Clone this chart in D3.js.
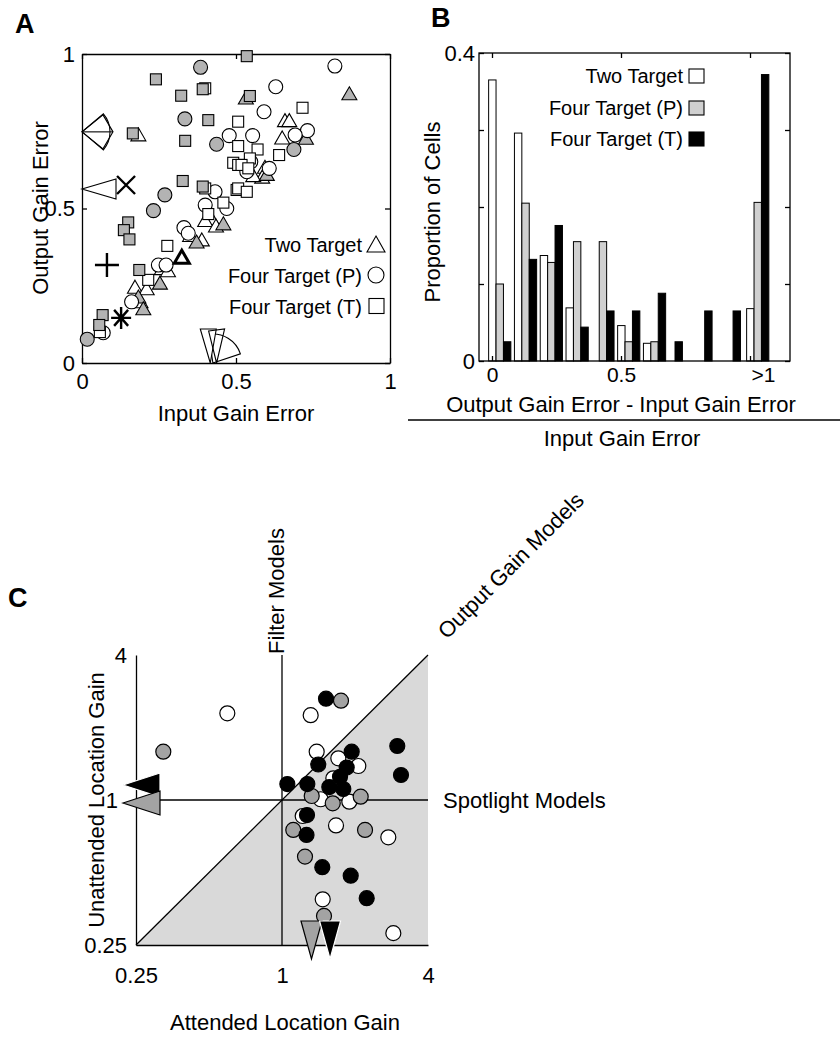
<!DOCTYPE html>
<html><head><meta charset="utf-8">
<script src="https://cdn.jsdelivr.net/npm/d3@7"></script>
<style>body{margin:0;background:#fff}svg{display:block}</style>
</head><body><svg id="c" width="840" height="1037"></svg>
<script>
// ---------------- DATA ----------------
// Panel A: [inputGainError, outputGainError, grayFilled]
const aTwoTarget = [
 [0.183,0.740,0],[0.659,0.786,0],[0.673,0.786,0],[0.650,0.730,0],[0.594,0.635,0],[0.585,0.603,0],
 [0.556,0.608,0],[0.421,0.468,0],[0.400,0.463,0],[0.351,0.414,0],[0.389,0.400,0],[0.435,0.445,0],
 [0.259,0.307,0],[0.279,0.300,0],[0.172,0.247,0],[0.210,0.242,0],[0.190,0.200,0],
 [0.868,0.873,1],[0.532,0.859,1],[0.727,0.729,1],[0.600,0.612,1],[0.459,0.452,1],[0.372,0.393,1],
 [0.253,0.260,1],[0.183,0.215,1],[0.199,0.177,1]
];
const aFourTargetP = [
 [0.821,0.961,0],[0.629,0.894,0],[0.591,0.813,0],[0.732,0.752,0],[0.692,0.738,0],[0.554,0.736,0],
 [0.478,0.736,0],[0.432,0.554,0],[0.548,0.651,0],[0.608,0.630,0],[0.535,0.619,0],[0.470,0.500,0],
 [0.400,0.511,0],[0.331,0.438,0],[0.345,0.420,0],[0.248,0.317,0],[0.273,0.317,0],[0.161,0.198,0],
 [0.069,0.098,0],
 [0.385,0.957,1],[0.334,0.790,1],[0.437,0.708,1],[0.269,0.544,1],[0.232,0.493,1],[0.688,0.691,1],[0.017,0.077,1]
];
const aFourTargetT = [
 [0.400,0.889,0],[0.716,0.826,0],[0.507,0.781,0],[0.507,0.702,0],[0.491,0.648,0],[0.507,0.641,0],
 [0.400,0.565,0],[0.502,0.560,0],[0.640,0.673,0],[0.570,0.691,0],[0.545,0.662,0],[0.518,0.641,0],
 [0.540,0.630,0],[0.507,0.565,0],[0.535,0.554,0],[0.459,0.519,0],[0.410,0.482,0],[0.277,0.379,0],
 [0.215,0.269,0],[0.058,0.100,0],
 [0.535,0.993,1],[0.240,0.918,1],[0.322,0.865,1],[0.392,0.886,1],[0.410,0.786,1],[0.165,0.743,1],
 [0.335,0.719,1],[0.545,0.864,1],[0.327,0.589,1],[0.392,0.571,1],[0.150,0.455,1],[0.136,0.430,1],
 [0.154,0.400,1],[0.186,0.301,1],[0.067,0.155,1],[0.056,0.123,1]
];
const aMeans = [ {x:0.143,y:0.576,sym:'x'}, {x:0.081,y:0.317,sym:'+'}, {x:0.127,y:0.146,sym:'*'} ];
const aBoldTriangle = {x:0.324, y:0.344};
const aMarginY = [0.748, 0.563];       // left margin markers (output gain error)
const aMarginX = [0.410, 0.437, 0.425]; // bottom margin markers (input gain error)
const aTicks = [0, 0.5, 1];
const legendLabels = ["Two Target", "Four Target (P)", "Four Target (T)"];

// Panel B: histogram
const bBins = [0.03,0.13,0.23,0.33,0.43,0.53,0.63,0.695,0.81,0.92,1.03];
const bTwoTarget   = [0.365,0.296,0.137,0.069,0.000,0.046,0.023,0.000,0.000,0.000,0.068];
const bFourTargetP = [0.100,0.205,0.128,0.155,0.155,0.025,0.025,0.000,0.000,0.000,0.206];
const bFourTargetT = [0.025,0.132,0.176,0.044,0.065,0.065,0.088,0.025,0.065,0.065,0.372];
const bXTicks = [0, 0.5, 1];
const bXTickLabels = ["0", "0.5", ">1"];
const bYTicks = [0, 0.1, 0.2, 0.3, 0.4];

// Panel C: [attendedGain, unattendedGain]
const cWhite = [[0.595,2.29],[1.313,2.25],[1.39,1.587],[1.707,1.49],[2.064,1.384],[1.628,1.23],[1.444,1.007],
 [1.895,0.984],[1.217,0.858],[1.67,0.784],[2.744,0.70],[1.472,0.387],[2.878,0.28]];
const cGray = [[0.324,1.587],[1.751,2.584],[1.326,1.039],[1.619,0.969],[2.111,1.032],[1.113,0.751],
 [2.2,0.751],[1.244,0.582],[1.49,0.33]];
const cBlack = [[1.519,2.634],[2.988,1.676],[3.095,1.27],[1.938,1.587],[1.411,1.404],[1.848,1.364],
 [1.735,1.249],[1.052,1.165],[1.272,1.165],[1.567,1.132],[1.79,1.111],[1.268,0.866],[1.262,0.716],
 [1.466,0.526],[1.92,0.485],[2.235,0.391]];
const cMarginY = [ {v:1.154, c:'black'}, {v:0.972, c:'gray'} ];
const cMarginX = [ {v:1.323, c:'gray'}, {v:1.578, c:'black'} ];
const cTicks = [0.25, 1, 4];

// ---------------- DRAW ----------------
const FONT = '"Liberation Sans", Arial, Helvetica, sans-serif';
const GA = '#b3b3b3', GB = '#d0d0d0', GC = '#a3a3a3', GREG = '#d9d9d9';
const svg = d3.select('#c');
svg.append('rect').attr('width',840).attr('height',1037).attr('fill','#fff');

function styleAxis(g, fs){
  g.attr('font-size', fs || 22).attr('font-family', FONT);
  g.selectAll('path,line').attr('stroke','#000').attr('stroke-width',1.3);
  g.selectAll('text').attr('fill','#000');
}
function txt(x,y,s,opt){
  opt = opt||{};
  const t = svg.append('text').attr('x',x).attr('y',y).text(s)
    .attr('font-family',FONT).attr('font-size',opt.fs||22)
    .attr('text-anchor',opt.anchor||'middle').attr('fill','#000');
  if(opt.bold) t.attr('font-weight','bold');
  if(opt.rot!==undefined) t.attr('transform',`rotate(${opt.rot},${x},${y})`);
  return t;
}
const triPath = (s,h) => `M0,${-h/2}L${s/2},${h/2}L${-s/2},${h/2}Z`;

// ===== Panel A =====
const ax = d3.scaleLinear().domain([0,1]).range([82,390]);
const ay = d3.scaleLinear().domain([0,1]).range([363,54]);
const fmtA = d => String(d);
const A = svg.append('g');
A.append('g').attr('transform','translate(0,363)')
 .call(d3.axisBottom(ax).tickValues(aTicks).tickFormat(fmtA).tickSizeInner(-5).tickSizeOuter(0).tickPadding(10)).call(styleAxis);
A.append('g').attr('transform','translate(0,54)')
 .call(d3.axisTop(ax).tickValues(aTicks).tickFormat('').tickSizeInner(-5).tickSizeOuter(0)).call(styleAxis);
A.append('g').attr('transform','translate(82,0)')
 .call(d3.axisLeft(ay).tickValues(aTicks).tickFormat(fmtA).tickSizeInner(-5).tickSizeOuter(0).tickPadding(7)).call(styleAxis);
A.append('g').attr('transform','translate(390,0)')
 .call(d3.axisRight(ay).tickValues(aTicks).tickFormat('').tickSizeInner(-5).tickSizeOuter(0)).call(styleAxis);

const pts = A.append('g').attr('stroke','#000').attr('stroke-width',1.1);
const order = arr => arr.slice().sort((a,b)=>a[2]-b[2]);
pts.selectAll('path.t').data(order(aTwoTarget)).join('path').attr('class','t')
  .attr('d', triPath(15,13)).attr('transform', d=>`translate(${ax(d[0])},${ay(d[1])})`)
  .attr('fill', d=> d[2]? GA : '#fff');
pts.selectAll('circle.p').data(order(aFourTargetP)).join('circle').attr('class','p')
  .attr('cx', d=>ax(d[0])).attr('cy', d=>ay(d[1])).attr('r',7)
  .attr('fill', d=> d[2]? GA : '#fff');
pts.selectAll('rect.q').data(order(aFourTargetT)).join('rect').attr('class','q')
  .attr('x', d=>ax(d[0])-5.5).attr('y', d=>ay(d[1])-5.5).attr('width',11).attr('height',11)
  .attr('fill', d=> d[2]? GA : '#fff');
// bold triangle
A.append('path').attr('d',triPath(15,13)).attr('transform',`translate(${ax(aBoldTriangle.x)},${ay(aBoldTriangle.y)})`)
  .attr('fill','#fff').attr('stroke','#000').attr('stroke-width',3);
// mean markers
aMeans.forEach(m=>{
  const g = A.append('g').attr('transform',`translate(${ax(m.x)},${ay(m.y)})`).attr('stroke','#000').attr('stroke-width',2.4).attr('fill','none');
  if(m.sym==='x'){ g.append('path').attr('d','M-9,-9L9,9M-9,9L9,-9'); }
  else if(m.sym==='+'){ g.append('path').attr('d','M-12,0L12,0M0,-12L0,12'); }
  else { g.append('path').attr('d','M-10,0L10,0M0,-11L0,11M-7,-8L7,8M-7,8L7,-8'); }
});
// left margin composite markers
(function(){
  const x0 = ax(0), y0 = ay(aMarginY[0]);
  const g = A.append('g').attr('transform',`translate(${x0},${y0})`).attr('stroke','#000').attr('stroke-width',1.1).attr('fill','#fff');
  g.append('path').attr('d', d3.arc()({innerRadius:0, outerRadius:28, startAngle:Math.PI/2-0.7, endAngle:Math.PI/2+0.7}));
  g.append('path').attr('d','M0,0L21,-17L31,0L21,17Z').attr('fill','none');
  g.append('path').attr('d','M0,0L31,0').attr('fill','none');
  const y1 = ay(aMarginY[1]);
  A.append('path').attr('d',`M${x0},${y1}L${x0+34},${y1-10}L${x0+34},${y1+10}Z`).attr('fill','#fff').attr('stroke','#000').attr('stroke-width',1.1);
})();
// bottom margin composite markers
(function(){
  const yb = ay(0);
  const g = A.append('g').attr('stroke','#000').attr('stroke-width',1.1).attr('fill','#fff');
  const xf = ax(aMarginX[2]);
  g.append('path').attr('transform',`translate(${xf},${yb})`)
   .attr('d', d3.arc()({innerRadius:0, outerRadius:29, startAngle:-0.15, endAngle:1.25}));
  [aMarginX[0], aMarginX[1]].forEach((v,i)=>{
    const xc = ax(v);
    g.append('path').attr('d',`M${xc-8},${yb-34+i*2}L${xc+8},${yb-34}L${xc+(i?0:2)},${yb}Z`).attr('fill', i? 'none':'#fff');
  });
})();
// legend A
const legA = A.append('g');
const legAy = [244, 275, 306];
legendLabels.forEach((l,i)=>{
  txt(362, legAy[i]+8, l, {anchor:'end', fs:20});
});
legA.append('path').attr('d',triPath(18,16)).attr('transform',`translate(376,${legAy[0]})`).attr('fill','#fff').attr('stroke','#000').attr('stroke-width',1.1);
legA.append('circle').attr('cx',376).attr('cy',legAy[1]).attr('r',8).attr('fill','#fff').attr('stroke','#000').attr('stroke-width',1.1);
legA.append('rect').attr('x',369).attr('y',legAy[2]-7.5).attr('width',15).attr('height',15).attr('fill','#fff').attr('stroke','#000').attr('stroke-width',1.1);
// labels A
txt(236, 421, 'Input Gain Error');
txt(48, 208, 'Output Gain Error', {rot:-90});
txt(15, 33, 'A', {anchor:'start', bold:true, fs:27});

// ===== Panel B =====
const bx = d3.scaleLinear().domain([0,1]).range([492,750]);
const by = d3.scaleLinear().domain([0,0.4]).range([361,53]);
const B = svg.append('g');
const barW = 0.0287;
const series = [ {v:bTwoTarget, c:'#fff'}, {v:bFourTargetP, c:GB}, {v:bFourTargetT, c:'#000'} ];
series.forEach((s,i)=>{
  B.append('g').selectAll('rect').data(bBins.map((b,j)=>({b, v:s.v[j]})).filter(d=>d.v>0)).join('rect')
   .attr('x', d=> bx(d.b + (i-1.5)*barW)).attr('width', bx(barW)-bx(0))
   .attr('y', d=> by(d.v)).attr('height', d=> by(0)-by(d.v))
   .attr('fill', s.c).attr('stroke','#000').attr('stroke-width',1);
});
// box
B.append('rect').attr('x',479).attr('y',53).attr('width',311).attr('height',308).attr('fill','none').attr('stroke','#000').attr('stroke-width',1.3);
const gbx = B.append('g').attr('transform','translate(0,361)')
 .call(d3.axisBottom(bx).tickValues(bXTicks).tickFormat((d,i)=>bXTickLabels[i]).tickSizeInner(-5).tickSizeOuter(0).tickPadding(6)).call(g=>styleAxis(g,21));
gbx.select('.domain').remove();
gbx.selectAll('text').filter((d,i)=>i===2).attr('dx',13);
B.append('g').attr('transform','translate(0,53)')
 .call(d3.axisTop(bx).tickValues(bXTicks).tickFormat('').tickSizeInner(-5).tickSizeOuter(0)).call(styleAxis).select('.domain').remove();
B.append('g').attr('transform','translate(479,0)')
 .call(d3.axisLeft(by).tickValues(bYTicks).tickFormat(d=> (d===0||d===0.4)? String(d):'').tickSizeInner(-5).tickSizeOuter(0).tickPadding(4)).call(styleAxis).select('.domain').remove();
B.append('g').attr('transform','translate(790,0)')
 .call(d3.axisRight(by).tickValues(bYTicks).tickFormat('').tickSizeInner(-5).tickSizeOuter(0)).call(styleAxis).select('.domain').remove();
// legend B
const legBy = [83, 115, 146];
legendLabels.forEach((l,i)=>{
  txt(683, legBy[i], l, {anchor:'end', fs:20});
  B.append('rect').attr('x',689).attr('y',legBy[i]-14).attr('width',15).attr('height',14)
   .attr('fill', series[i].c).attr('stroke','#000').attr('stroke-width',1.1);
});
txt(440, 212, 'Proportion of Cells', {rot:-90});
txt(621, 412, 'Output Gain Error - Input Gain Error');
svg.append('line').attr('x1',408).attr('x2',840).attr('y1',420).attr('y2',420).attr('stroke','#000').attr('stroke-width',1.5);
txt(622, 446, 'Input Gain Error');
txt(431, 27, 'B', {anchor:'start', bold:true, fs:27});

// ===== Panel C =====
const cx = d3.scaleLog().base(2).domain([0.25,4]).range([136,428]);
const cy = d3.scaleLog().base(2).domain([0.25,4]).range([945,655]);
const C = svg.append('g');
const line = d3.line().x(d=>cx(d[0])).y(d=>cy(d[1]));
C.append('path').attr('d', line([[0.25,0.25],[4,0.25],[4,4]])+'Z').attr('fill',GREG).attr('stroke','none');
C.append('path').attr('d', line([[0.25,0.25],[4,4]])).attr('stroke','#000').attr('stroke-width',1.3);
C.append('path').attr('d', line([[1,0.25],[1,4]])).attr('stroke','#000').attr('stroke-width',1.3);
C.append('path').attr('d', line([[0.25,1],[4,1]])).attr('stroke','#000').attr('stroke-width',1.3);
const fmtC = d => String(d);
C.append('g').attr('transform','translate(0,945)')
 .call(d3.axisBottom(cx).tickValues(cTicks).tickFormat(fmtC).tickSize(0).tickPadding(22)).call(styleAxis);
const gcy = C.append('g').attr('transform','translate(136,0)')
 .call(d3.axisLeft(cy).tickValues(cTicks).tickFormat(fmtC).tickSize(0).tickPadding(9)).call(styleAxis);
gcy.selectAll('text').filter(d=>d===1).attr('dx',-9);
const cpts = C.append('g').attr('stroke','#000').attr('stroke-width',1.2);
[[cWhite,'#fff'],[cGray,GC],[cBlack,'#000']].forEach(([arr,f])=>{
  cpts.append('g').selectAll('circle').data(arr).join('circle')
   .attr('cx',d=>cx(d[0])).attr('cy',d=>cy(d[1])).attr('r',7.5).attr('fill',f);
});
// margin triangles
cMarginY.forEach(m=>{
  const y = cy(m.v), x0 = cx(0.25);
  C.append('path').attr('d',`M${x0-13},${y}L${x0+24},${y-12}L${x0+24},${y+12}Z`)
   .attr('fill', m.c==='black'?'#000':GC).attr('stroke', m.c==='black'?'#fff':'#000').attr('stroke-width',1.2);
});
cMarginX.forEach(m=>{
  const x = cx(m.v), y0 = cy(0.25);
  C.append('path').attr('d',`M${x-10.5},${y0-24}L${x+10.5},${y0-24}L${x},${y0+14}Z`)
   .attr('fill', m.c==='black'?'#000':GC).attr('stroke', m.c==='black'?'#fff':'#000').attr('stroke-width',1.2);
});
txt(284, 591, 'Filter Models', {rot:-90});
txt(443, 808, 'Spotlight Models', {anchor:'start'});
txt(447, 640, 'Output Gain Models', {anchor:'start', rot:-45});
txt(104, 800, 'Unattended Location Gain', {rot:-90});
txt(285, 1030, 'Attended Location Gain');
txt(8, 607, 'C', {anchor:'start', bold:true, fs:27});
</script></body></html>
